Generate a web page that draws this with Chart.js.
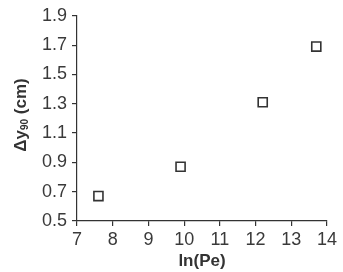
<!DOCTYPE html>
<html>
<head>
<meta charset="utf-8">
<script src="https://cdn.jsdelivr.net/npm/chart.js@4"></script>
<style>
  html, body { margin: 0; padding: 0; background: #fff; }
  #wrap { width: 343px; height: 272px; }
</style>
</head>
<body>
<div id="wrap"><canvas id="chart" width="343" height="272"></canvas></div>
<script>
// ln(Pe) vs Δy90
const lnPe = [7.6, 9.9, 12.2, 13.7];
const dy90 = [0.67, 0.87, 1.31, 1.69];

const axisColor = "#333";
const family = "'Liberation Sans', Arial, sans-serif";
const tickFont = { family: family, size: 18 };

const points = lnPe.map((x, i) => ({ x: x, y: dy90[i] }));

// y-akselin otsikko alaindeksillä (Δy90)
const yTitle = {
  id: "yTitle",
  afterDraw(chart) {
    const c = chart.ctx;
    const big = "bold 17px " + family;
    const small = "bold 10px " + family;
    const parts = [["\u0394y", big, 0], ["90", small, 4], [" (cm)", big, 0]];
    c.save();
    let w = 0;
    parts.forEach(p => { c.font = p[1]; w += c.measureText(p[0]).width; });
    c.translate(21, 115);
    c.rotate(-Math.PI / 2);
    c.fillStyle = "#333";
    c.textBaseline = "middle";
    let x = -w / 2;
    parts.forEach(p => {
      c.font = p[1];
      c.fillText(p[0], x, p[2]);
      x += c.measureText(p[0]).width;
    });
    c.restore();
  }
};

new Chart(document.getElementById("chart").getContext("2d"), {
  type: "scatter",
  data: {
    datasets: [{
      data: points,
      pointStyle: "rect",
      pointRadius: 6.4,
      pointBorderWidth: 1.6,
      borderColor: axisColor,
      backgroundColor: "rgba(0,0,0,0)"
    }]
  },
  options: {
    responsive: false,
    animation: false,
    layout: { padding: { top: 15, right: 16, left: 0, bottom: 0 } },
    plugins: { legend: { display: false }, tooltip: { enabled: false } },
    scales: {
      x: {
        type: "linear",
        min: 7, max: 14,
        afterFit: s => { s.height = 51; },
        ticks: { stepSize: 1, color: "#3a3a3a", font: tickFont, padding: 3 },
        grid: { drawOnChartArea: false, tickLength: 5, color: axisColor, lineWidth: 1.2 },
        border: { color: axisColor, width: 1.2 },
        title: {
          display: true, text: "ln(Pe)", color: "#333",
          font: { family: family, size: 17, weight: "bold" },
          padding: { top: 0, bottom: 0 }
        }
      },
      y: {
        min: 0.5, max: 1.9,
        afterFit: s => { s.width = 77; },
        ticks: {
          stepSize: 0.2, color: "#3a3a3a", font: tickFont, padding: 5,
          callback: v => v.toFixed(1)
        },
        grid: { drawOnChartArea: false, tickLength: 5, color: axisColor, lineWidth: 1.2 },
        border: { color: axisColor, width: 1.2 }
      }
    }
  },
  plugins: [yTitle]
});
</script>
</body>
</html>
